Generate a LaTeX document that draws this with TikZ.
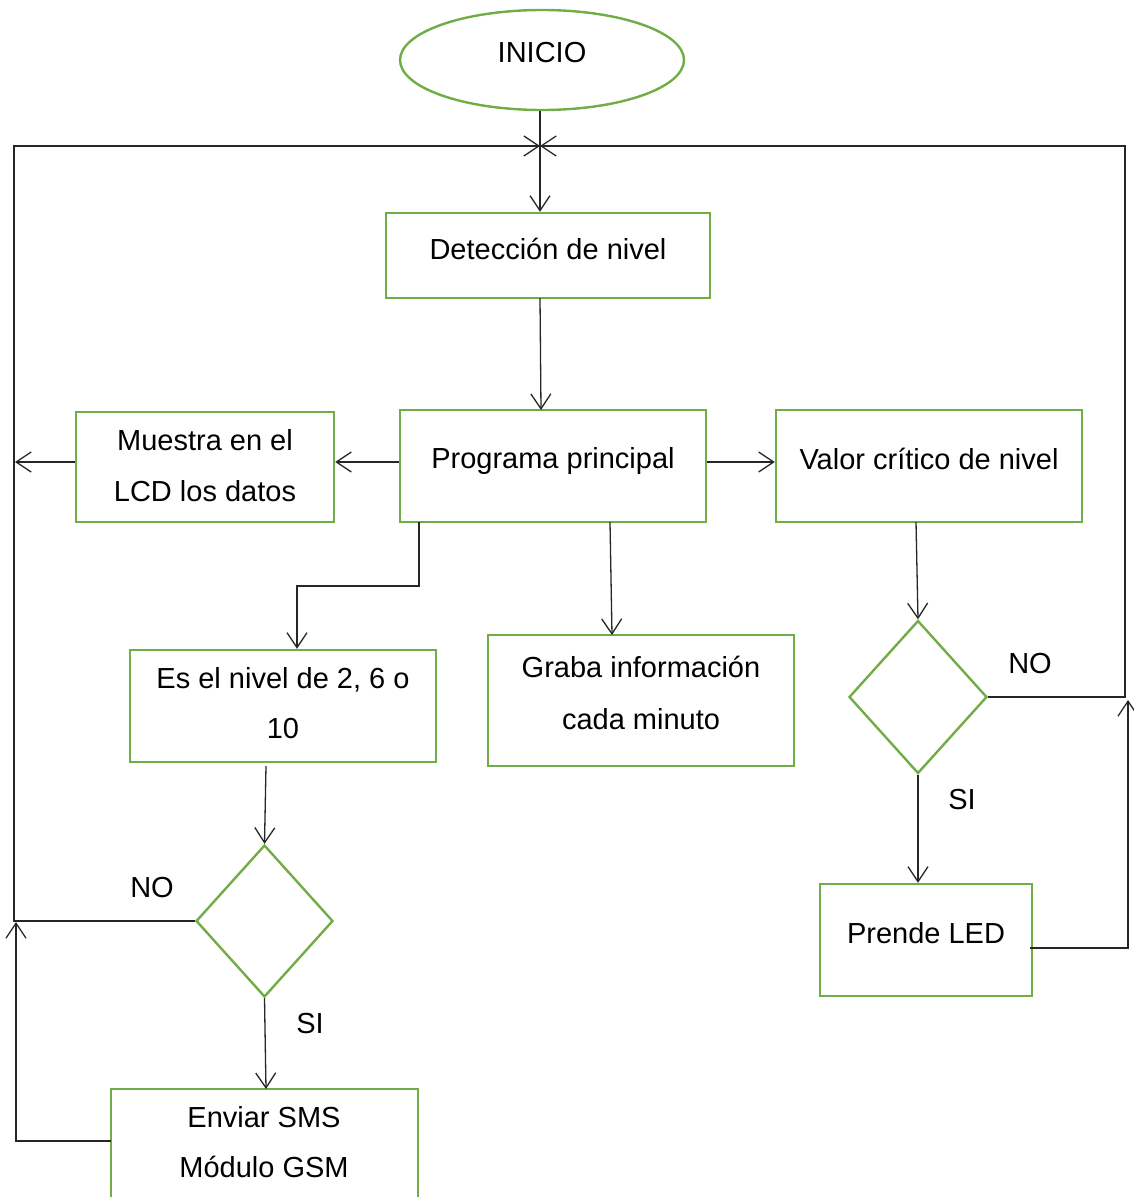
\documentclass[tikz,border=0pt]{standalone}
\usepackage{fontspec}
\setmainfont{Liberation Sans}
\usetikzlibrary{arrows.meta,shapes.geometric}
\definecolor{grn}{RGB}{112,173,71}
\begin{document}
\begin{tikzpicture}[x=1pt,y=-1pt,
  box/.style={draw=grn, line width=2.4pt, inner sep=0pt},
  txt/.style={inner sep=0pt, anchor=base, font=\fontsize{29}{34}\selectfont},
  ln/.style={line width=1.3pt, black!85},
  arr/.style={ln, -{Straight Barb[length=15pt,width=20pt,line width=1.3pt]}}]
\useasboundingbox (0,0) rectangle (1133,1197);
% shapes
\node[box, ellipse, minimum width=284, minimum height=100] (ini) at (542,60) {};
\node[box, minimum width=324, minimum height=85] (det) at (548,255.5) {};
\node[box, minimum width=306, minimum height=112] (prog) at (553,466) {};
\node[box, minimum width=258, minimum height=110] (lcd) at (205,467) {};
\node[box, minimum width=306, minimum height=112] (val) at (929,466) {};
\node[box, minimum width=306, minimum height=112] (es) at (283,706) {};
\node[box, minimum width=306, minimum height=131] (gra) at (641,700.5) {};
\node[box, minimum width=212, minimum height=112] (led) at (926,940) {};
\node[box, minimum width=307, minimum height=116] (sms) at (264.5,1147) {};
\node[box, diamond, minimum width=138, minimum height=153] (d1) at (918,697) {};
\node[box, diamond, minimum width=137, minimum height=152] (d2) at (264.5,921) {};
% texts
\node[txt] (tini) at (542,62.5) {INICIO};
\node[txt] (tdet) at (548,259.5) {Detección de nivel};
\node[txt] (tprog) at (553,468.5) {Programa principal};
\node[txt] (tlcd1) at (205,450.5) {Muestra en el};
\node[txt] (tlcd2) at (205,501.5) {LCD los datos};
\node[txt] (tval) at (929,469.5) {Valor crítico de nivel};
\node[txt] (tes1) at (283,688.5) {Es el nivel de 2, 6 o};
\node[txt] (tes2) at (283,738.5) {10};
\node[txt] (tgra1) at (641,677.5) {Graba información};
\node[txt] (tgra2) at (641,729.5) {cada minuto};
\node[txt] (tled) at (926,943.5) {Prende LED};
\node[txt] (tsms1) at (264,1127.5) {Enviar SMS};
\node[txt] (tsms2) at (264,1177.5) {Módulo GSM};
\node[txt] (no1) at (1030,673.5) {NO};
\node[txt] (si1) at (962,809.5) {SI};
\node[txt] (no2) at (152,897.5) {NO};
\node[txt] (si2) at (310,1033.5) {SI};
% coordinates
\coordinate (j) at (540,146);
\coordinate (tl) at (14,146);
\coordinate (tr) at (1125,146);
\coordinate (pa) at (419,522);
\coordinate (pb) at (419,586);
\coordinate (pc) at (297,586);
\coordinate (pd) at (610,522);
\coordinate (pe) at (612,635);
\coordinate (vo) at (916,522);
\coordinate (lo) at (1030,948);
\coordinate (lr) at (1128,948);
\coordinate (la) at (1128,700);
\coordinate (so) at (111,1141);
\coordinate (sl) at (16,1141);
\coordinate (sa) at (16,922);
\coordinate (eo) at (266,766);
% connectors
\draw[arr] (ini.south -| j) -- (det.north -| j);
\draw[arr] (d2.west) -- (d2.west -| tl) -- (tl) -- (j);
\draw[arr] (d1.east) -- (d1.east -| tr) -- (tr) -- (j);
\draw[arr] (540,298) -- (541,410);
\draw[arr] (prog.west |- 0,462) -- (lcd.east |- 0,462);
\draw[arr] (lcd.west |- 0,462) -- (15,462);
\draw[arr] (prog.east |- 0,462) -- (val.west |- 0,462);
\draw[arr] (pa) -- (pb) -- (pc) -- (es.north -| pc);
\draw[arr] (pd) -- (pe);
\draw[arr] (vo) -- (d1.north);
\draw[arr] (d1.south) -- (led.north -| d1.south);
\draw[arr] (lo) -- (lr) -- (la);
\draw[arr] (eo) -- (d2.north);
\draw[arr] (d2.south) -- (266,1089);
\draw[arr] (so) -- (sl) -- (sa);
\end{tikzpicture}
\end{document}
